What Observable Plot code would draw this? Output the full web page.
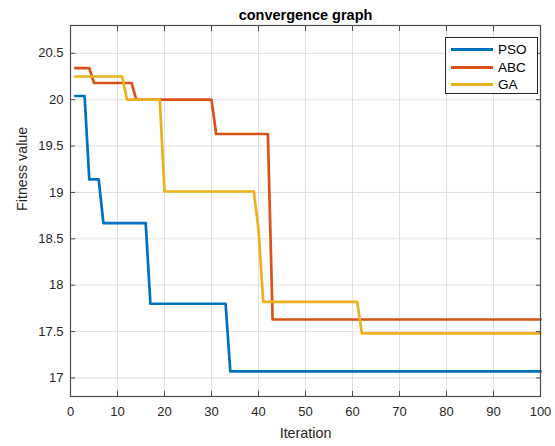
<!DOCTYPE html>
<html>
<head>
<meta charset="utf-8">
<script src="https://cdn.jsdelivr.net/npm/d3@7"></script>
<script src="https://cdn.jsdelivr.net/npm/@observablehq/plot@0.6"></script>
<style>
  html, body { margin: 0; padding: 0; background: #fff; }
  #wrap { position: relative; width: 555px; height: 446px; font-family: "Liberation Sans", Arial, sans-serif; }
  #legend { position: absolute; left: 445px; top: 37px; width: 91px; height: 55px; border: 1px solid #262626; background: #fff; }
  .row { position: absolute; left: 0; height: 17px; display: flex; align-items: center; font-size: 13.5px; color: #000; }
  .sw { width: 42px; height: 3px; margin-left: 5px; margin-right: 5px; }
</style>
</head>
<body>
<div id="wrap"></div>
<script>
const seriesNames = ["PSO", "ABC", "GA"];
const seriesColors = ["#0072BD", "#D95319", "#EDB120"];

const psoIter = [1, 3, 4, 6, 7, 16, 17, 33, 34, 100];
const psoFit  = [20.04, 20.04, 19.14, 19.14, 18.67, 18.67, 17.80, 17.80, 17.07, 17.07];

const abcIter = [1, 4, 5, 13, 14, 30, 31, 42, 43, 100];
const abcFit  = [20.34, 20.34, 20.18, 20.18, 20.0, 20.0, 19.63, 19.63, 17.63, 17.63];

const gaIter = [1, 11, 12, 19, 20, 39, 40, 41, 61, 62, 100];
const gaFit  = [20.25, 20.25, 20.0, 20.0, 19.01, 19.01, 18.6, 17.82, 17.82, 17.48, 17.48];

const xTicks = [0, 10, 20, 30, 40, 50, 60, 70, 80, 90, 100];
const yTicks = [17, 17.5, 18, 18.5, 19, 19.5, 20, 20.5];

const toRows = (name, it, fit) => it.map((x, i) => ({series: name, x, y: fit[i]}));
const data = [
  ...toRows("PSO", psoIter, psoFit),
  ...toRows("ABC", abcIter, abcFit),
  ...toRows("GA", gaIter, gaFit)
];

const tickColor = "#262626";
const chart = Plot.plot({
  width: 555,
  height: 446,
  marginLeft: 70,
  marginRight: 15,
  marginTop: 25,
  marginBottom: 50,
  style: {fontFamily: '"Liberation Sans", Arial, sans-serif', background: "#fff", color: tickColor},
  x: {domain: [0, 100]},
  y: {domain: [16.8, 20.8]},
  color: {domain: seriesNames, range: seriesColors},
  marks: [
    Plot.gridX(xTicks, {stroke: "#dfdfdf", strokeOpacity: 1}),
    Plot.gridY(yTicks, {stroke: "#dfdfdf", strokeOpacity: 1}),
    Plot.line(data, {x: "x", y: "y", z: "series", stroke: "series", strokeWidth: 2.7, curve: "linear"}),
    Plot.frame({stroke: "#4d4d4d", strokeWidth: 1.2}),
    Plot.axisX(xTicks, {anchor: "bottom", tickSize: -5, tickPadding: 15, label: null, fontSize: 13, stroke: "#4d4d4d", fill: tickColor}),
    Plot.axisX(xTicks, {anchor: "top", tickSize: -5, tickFormat: () => "", label: null, stroke: "#4d4d4d"}),
    Plot.axisY(yTicks, {anchor: "left", tickSize: -5, tickPadding: 12, label: null, fontSize: 13, stroke: "#4d4d4d", fill: tickColor, tickFormat: d => String(d)}),
    Plot.axisY(yTicks, {anchor: "right", tickSize: -5, tickFormat: () => "", label: null, stroke: "#4d4d4d"}),
    Plot.text(["convergence graph"], {frameAnchor: "top", dy: -16, fontSize: 14.5, fontWeight: "bold", fill: "#000"}),
    Plot.text(["Iteration"], {frameAnchor: "bottom", dy: 41, fontSize: 14.3, fill: tickColor}),
    Plot.text(["Fitness value"], {frameAnchor: "left", dx: -48, rotate: -90, fontSize: 14.3, fill: tickColor})
  ]
});

const wrap = document.getElementById("wrap");
wrap.appendChild(chart);

const legend = document.createElement("div");
legend.id = "legend";
seriesNames.forEach((name, i) => {
  const row = document.createElement("div");
  row.className = "row";
  row.style.top = (3 + i * 17.5) + "px";
  const sw = document.createElement("span");
  sw.className = "sw";
  sw.style.background = seriesColors[i];
  const t = document.createElement("span");
  t.textContent = name;
  row.appendChild(sw);
  row.appendChild(t);
  legend.appendChild(row);
});
wrap.appendChild(legend);
</script>
</body>
</html>
